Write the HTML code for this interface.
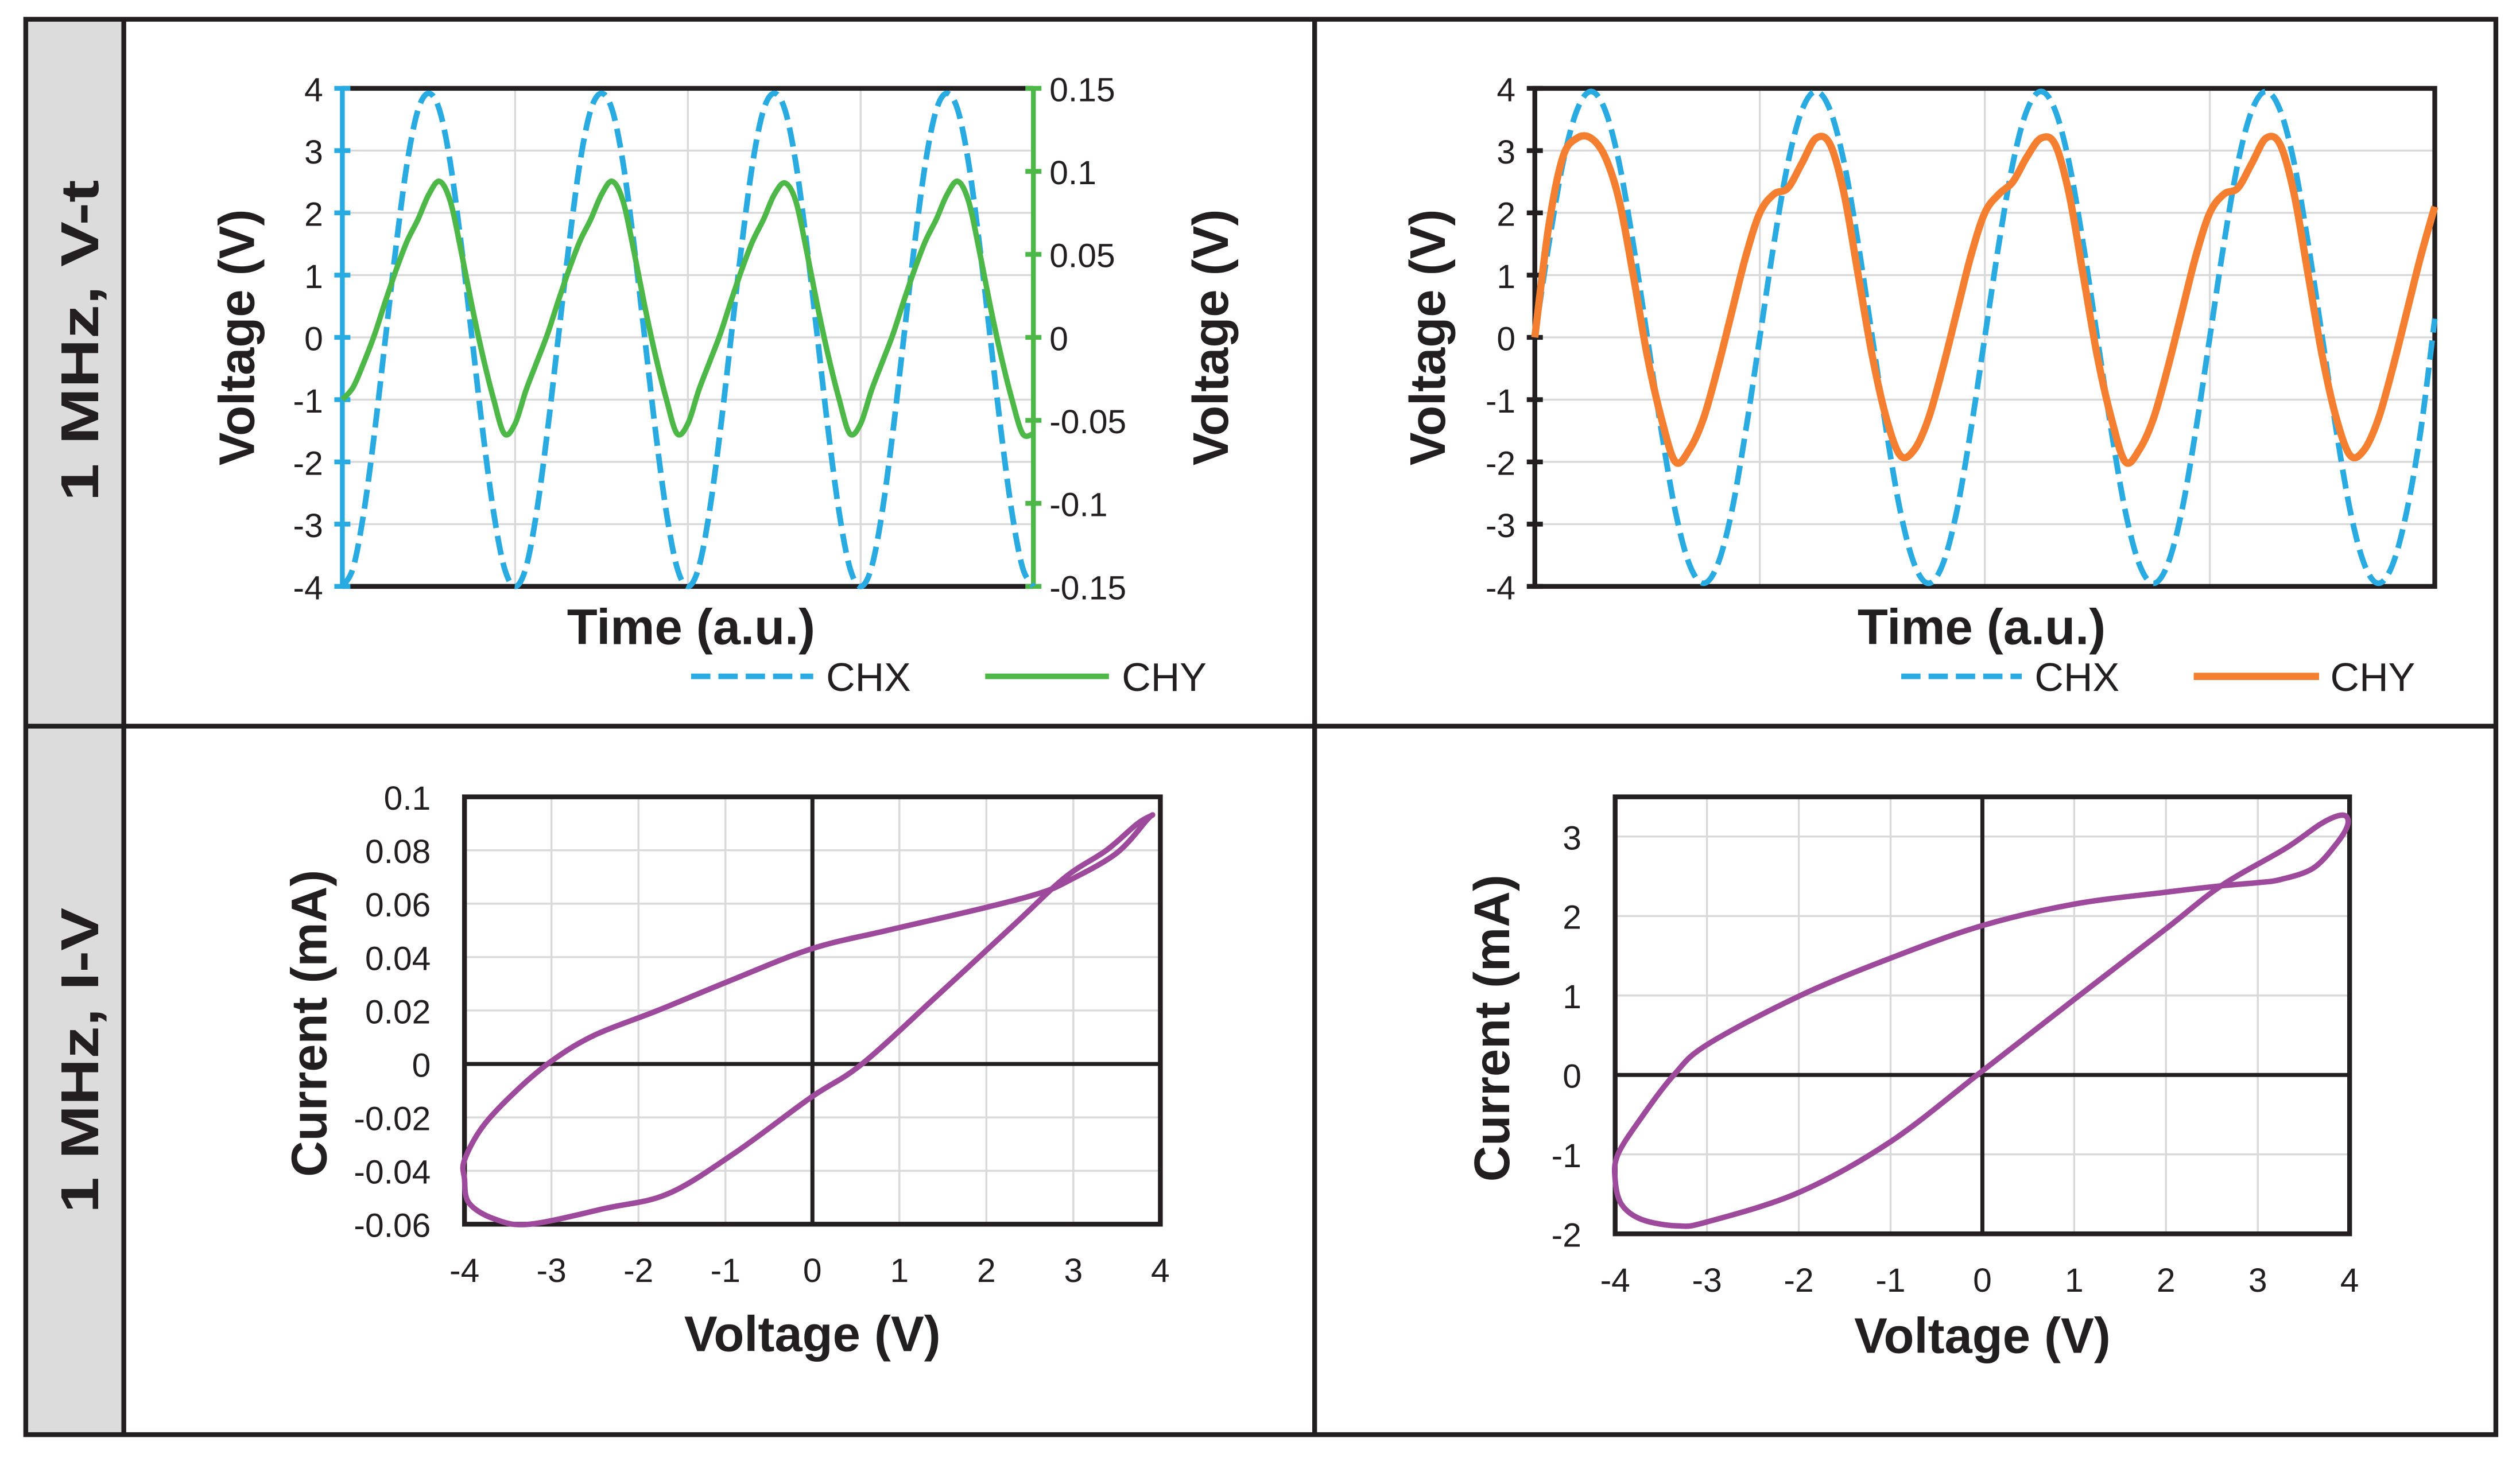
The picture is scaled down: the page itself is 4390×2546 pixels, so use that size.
<!DOCTYPE html>
<html><head><meta charset="utf-8"><style>
html,body{margin:0;padding:0;background:#fff;}
svg{display:block;}
text{font-family:"Liberation Sans",Arial,sans-serif;fill:#231f20;}
.tk{font-size:21px;}
.tt{font-size:31px;font-weight:bold;}
.rl{font-size:33px;font-weight:bold;}
.lg{font-size:25px;}
</style></head><body>
<svg id="fig" xmlns="http://www.w3.org/2000/svg" width="4390" height="2546" viewBox="0 0 1568 909.4">
<rect x="0" y="0" width="1568" height="910" fill="#fff"/>
<rect x="16" y="12" width="61" height="881" fill="#dcdcdd"/>
<rect x="16" y="12" width="1537" height="881" fill="none" stroke="#231f20" stroke-width="3"/>
<line x1="77" y1="12" x2="77" y2="893" stroke="#231f20" stroke-width="3"/>
<line x1="818" y1="12" x2="818" y2="893" stroke="#231f20" stroke-width="3"/>
<line x1="16" y1="452" x2="1553" y2="452" stroke="#231f20" stroke-width="3"/>
<text class="rl" transform="translate(61,212) rotate(-90)" text-anchor="middle" textLength="200" lengthAdjust="spacingAndGlyphs">1 MHz,  V-t</text>
<text class="rl" transform="translate(61,660) rotate(-90)" text-anchor="middle" textLength="190" lengthAdjust="spacingAndGlyphs">1 MHz, I-V</text>
<g id="g"></g>
</svg>
<script>
// ---- data ----
const chxA = [-4,-3.7,-2.8,-1.5,0,1.5,2.8,3.65,3.92,3.65,2.8,1.5,0,-1.5,-2.8,-3.7,
 -4,-3.7,-2.8,-1.5,0,1.5,2.8,3.65,3.92,3.65,2.8,1.5,0,-1.5,-2.8,-3.7,
 -4,-3.7,-2.8,-1.5,0,1.5,2.8,3.65,3.92,3.65,2.8,1.5,0,-1.5,-2.8,-3.7,
 -4,-3.7,-2.8,-1.5,0,1.5,2.8,3.65,3.92,3.65,2.8,1.5,0,-1.5,-2.8,-3.7,-4];
const chyA = [-0.0375,-0.030,-0.015,0.002,0.022,0.041,0.058,0.071,0.086,0.094,0.082,0.052,0.019,-0.011,-0.037,-0.058,
 -0.052,-0.032,-0.015,0.002,0.022,0.041,0.058,0.071,0.086,0.094,0.082,0.052,0.019,-0.011,-0.037,-0.058,
 -0.052,-0.032,-0.015,0.002,0.022,0.041,0.058,0.071,0.086,0.093,0.082,0.052,0.019,-0.011,-0.037,-0.058,
 -0.052,-0.032,-0.015,0.002,0.022,0.041,0.058,0.071,0.086,0.094,0.082,0.052,0.019,-0.011,-0.037,-0.058,-0.058];
const chxB = [0,1.5,2.8,3.65,3.95,3.65,2.8,1.5,0,-1.5,-2.8,-3.65,-3.95,-3.65,-2.8,-1.5,
 0,1.5,2.8,3.65,3.95,3.65,2.8,1.5,0,-1.5,-2.8,-3.65,-3.95,-3.65,-2.8,-1.5,
 0,1.5,2.8,3.65,3.95,3.65,2.8,1.5,0,-1.5,-2.8,-3.65,-3.95,-3.65,-2.8,-1.5,
 0,1.5,2.8,3.65,3.95,3.65,2.8,1.5,0,-1.5,-2.8,-3.65,-3.95,-3.65,-2.8,-1.5,0.3];
const chyB = [0,1.8,2.9,3.2,3.2,2.9,2.2,1.0,-0.3,-1.3,-2.0,-1.8,-1.3,-0.5,0.4,1.3,
 2.0,2.3,2.4,2.8,3.2,3.1,2.3,1.0,-0.3,-1.3,-1.9,-1.8,-1.3,-0.5,0.4,1.3,
 2.0,2.3,2.5,2.9,3.2,3.1,2.3,1.0,-0.3,-1.3,-2.0,-1.8,-1.3,-0.5,0.4,1.3,
 2.0,2.3,2.4,2.8,3.2,3.1,2.3,1.0,-0.3,-1.3,-1.9,-1.8,-1.3,-0.5,0.4,1.3,2.1];
const ivV1 = [-4,-3.78,-3.37,-2.96,-2.49,-1.78,-0.96,-0.02,0.86,1.92,2.62,2.97,3.5,3.85,3.9,3.73,3.38,2.91,2.33,1.45,0.57,-0.02,-0.9,-1.66,-2.37,-3.25,-3.66,-3.95,-4];
const ivI1 = [-0.036,-0.023,-0.009,0.002,0.011,0.020,0.031,0.043,0.050,0.058,0.064,0.069,0.079,0.0915,0.093,0.0898,0.080,0.070,0.0525,0.026,0.0,-0.0126,-0.0335,-0.0486,-0.054,-0.060,-0.058,-0.052,-0.043];
const ivV2 = [-4,-3.97,-3.71,-3.36,-3,-2,-1,0,1,2,2.6,3,3.25,3.6,3.85,3.98,3.93,3.7,3.3,2.6,2,1,0,-1,-2,-3,-3.32,-3.71,-3.93];
const ivI2 = [-1.32,-1.0,-0.53,0,0.38,0.99,1.47,1.88,2.15,2.3,2.38,2.42,2.46,2.6,2.9,3.15,3.27,3.17,2.85,2.38,1.84,0.95,0.05,-0.84,-1.48,-1.85,-1.9,-1.82,-1.63];
const ticksL = [-4,-3,-2,-1,0,1,2,3,4];
const ticksR = ["-0.15","-0.1","-0.05","0","0.05","0.1","0.15"];
const ticksI1 = ["-0.06","-0.04","-0.02","0","0.02","0.04","0.06","0.08","0.1"];
const ticksI2 = [-2,-1,0,1,2,3];
const ticksV = [-4,-3,-2,-1,0,1,2,3,4];

const NS="http://www.w3.org/2000/svg";
const G=document.getElementById('g');
function mk(tag,attrs,parent){const e=document.createElementNS(NS,tag);for(const k in attrs)e.setAttribute(k,attrs[k]);(parent||G).appendChild(e);return e;}
function lin(d0,d1,r0,r1){return v=>r0+(v-d0)/(d1-d0)*(r1-r0);}
function smooth(pts,closed){
  const n=pts.length;let d=`M${pts[0][0]},${pts[0][1]}`;
  const P=i=>closed?pts[(i+n)%n]:pts[Math.max(0,Math.min(n-1,i))];
  const m=closed?n:n-1;
  for(let i=0;i<m;i++){const p0=P(i-1),p1=P(i),p2=P(i+1),p3=P(i+2);
    d+=` C${p1[0]+(p2[0]-p0[0])/6},${p1[1]+(p2[1]-p0[1])/6} ${p2[0]-(p3[0]-p1[0])/6},${p2[1]-(p3[1]-p1[1])/6} ${p2[0]},${p2[1]}`;}
  return closed?d+'Z':d;}
function txt(x,y,s,cls,anchor,parent){const t=mk('text',{x:x,y:y,class:cls,'text-anchor':anchor||'middle'},parent);t.textContent=s;return t;}
const GRID='#d9d9d9';

// ---------- top-left ----------
{
 const x0=213,x1=643,y0=55,y1=365;
 const X=lin(0,chxA.length-1,x0,x1), Y=lin(-4,4,y1,y0), YR=lin(-0.15,0.15,y1,y0);
 for(const f of [0.25,0.5,0.75]) mk('line',{x1:x0+(x1-x0)*f,x2:x0+(x1-x0)*f,y1:y0,y2:y1,stroke:GRID,'stroke-width':1.2});
 for(const v of ticksL) mk('line',{x1:x0,x2:x1,y1:Y(v),y2:Y(v),stroke:GRID,'stroke-width':1.2});
 mk('line',{x1:x0,x2:x1,y1:y0,y2:y0,stroke:'#231f20','stroke-width':3});
 mk('line',{x1:x0,x2:x1,y1:y1,y2:y1,stroke:'#231f20','stroke-width':3});
 const la=mk('line',{x1:x0,x2:x0,y1:y0,y2:y1,stroke:'#29abe2','stroke-width':3});
 
 
 const ra=mk('line',{x1:x1,x2:x1,y1:y0,y2:y1,stroke:'#4db848','stroke-width':3});
 
 
 for(const v of ticksL){mk('line',{x1:x0-5,x2:x0+5,y1:Y(v),y2:Y(v),stroke:'#29abe2','stroke-width':3});
  const t=txt(x0-12,Y(v)+8,String(v),'tk','end');
  
  }
 for(const s of ticksR){const v=parseFloat(s);mk('line',{x1:x1-5,x2:x1+5,y1:YR(v),y2:YR(v),stroke:'#4db848','stroke-width':3});
  const t=txt(x1+10,YR(v)+8,s,'tk','start');
  
  }
 const p1=mk('path',{d:smooth(chxA.map((v,i)=>[X(i),Y(v)])),fill:'none',stroke:'#29abe2','stroke-width':3.5,'stroke-dasharray':'12 5'});
 
 
 const p2=mk('path',{d:smooth(chyA.map((v,i)=>[X(i),YR(v)])),fill:'none',stroke:'#4db848','stroke-width':3.4});
 
 
 let t=txt(0,0,'Voltage (V)','tt');t.setAttribute('transform','translate(158,210) rotate(-90)');
 
 
 t=txt(0,0,'Voltage (V)','tt');t.setAttribute('transform','translate(764,210) rotate(-90)');
 
 
 t=txt(430,401,'Time (a.u.)','tt');
 
 
 const l1=mk('line',{x1:430,x2:506,y1:421,y2:421,stroke:'#29abe2','stroke-width':3.5,'stroke-dasharray':'12 5'});
 
 
 txt(514,430,'CHX','lg','start');
 const l2=mk('line',{x1:613,x2:690,y1:421,y2:421,stroke:'#4db848','stroke-width':3.5});
 
 
 txt(698,430,'CHY','lg','start');
}
// ---------- top-right ----------
{
 const x0=955,x1=1515,y0=55,y1=365;
 const X=lin(0,chxB.length-1,x0,x1), Y=lin(-4,4,y1,y0);
 for(const f of [0.25,0.5,0.75]) mk('line',{x1:x0+(x1-x0)*f,x2:x0+(x1-x0)*f,y1:y0,y2:y1,stroke:GRID,'stroke-width':1.2});
 for(const v of ticksL) mk('line',{x1:x0,x2:x1,y1:Y(v),y2:Y(v),stroke:GRID,'stroke-width':1.2});
 mk('rect',{x:x0,y:y0,width:x1-x0,height:y1-y0,fill:'none',stroke:'#231f20','stroke-width':3});
 for(const v of ticksL){mk('line',{x1:x0-5,x2:x0+5,y1:Y(v),y2:Y(v),stroke:'#231f20','stroke-width':3});
  const t=txt(x0-12,Y(v)+8,String(v),'tk','end');
  
  }
 const p1=mk('path',{d:smooth(chxB.map((v,i)=>[X(i),Y(v)])),fill:'none',stroke:'#29abe2','stroke-width':3.5,'stroke-dasharray':'12 5'});
 
 
 const p2=mk('path',{d:smooth(chyB.map((v,i)=>[X(i),Y(v)])),fill:'none',stroke:'#f47f30','stroke-width':4.5});
 
 
 let t=txt(0,0,'Voltage (V)','tt');t.setAttribute('transform','translate(899,210) rotate(-90)');
 
 
 t=txt(1233,401,'Time (a.u.)','tt');
 
 
 const l1=mk('line',{x1:1183,x2:1258,y1:421,y2:421,stroke:'#29abe2','stroke-width':3.5,'stroke-dasharray':'12 5'});
 
 
 txt(1266,430,'CHX','lg','start');
 const l2=mk('line',{x1:1365,x2:1443,y1:421,y2:421,stroke:'#f47f30','stroke-width':4.5});
 
 
 txt(1450,430,'CHY','lg','start');
}
// ---------- I-V plots ----------
function ivPlot(x0,x1,y0,y1,imin,imax,iticks,V,I,titleX,xtY,name){
 const X=lin(-4,4,x0,x1), Y=lin(imin,imax,y1,y0);
 for(const v of ticksV) mk('line',{x1:X(v),x2:X(v),y1:y0,y2:y1,stroke:GRID,'stroke-width':1.2});
 for(const s of iticks){const v=parseFloat(s);mk('line',{x1:x0,x2:x1,y1:Y(v),y2:Y(v),stroke:GRID,'stroke-width':1.2});
  const t=txt(x0-21,Y(v)+8,String(s),'tk','end');
  
  }
 mk('line',{x1:X(0),x2:X(0),y1:y0,y2:y1,stroke:'#231f20','stroke-width':2.5});
 mk('line',{x1:x0,x2:x1,y1:Y(0),y2:Y(0),stroke:'#231f20','stroke-width':2.5});
 mk('rect',{x:x0,y:y0,width:x1-x0,height:y1-y0,fill:'none',stroke:'#231f20','stroke-width':3});
 for(const v of ticksV){const t=txt(X(v),y1+36,String(v),'tk','middle');
  
  }
 const p=mk('path',{d:smooth(V.map((v,i)=>[X(v),Y(I[i])]),true),fill:'none',stroke:'#9e4a9c','stroke-width':3.4});
 
 
 let t=txt(0,0,'Current (mA)','tt');t.setAttribute('transform',`translate(${titleX},${(y0+y1)/2+8}) rotate(-90)`);
 
 
 t=txt((x0+x1)/2,xtY,'Voltage (V)','tt');
 
 
}
ivPlot(289,722,496,762,-0.06,0.1,ticksI1,ivV1,ivI1,203,841,'iv-loop-left');
ivPlot(1005,1462,496,768,-2,3.5,ticksI2,ivV2,ivI2,939,842,'iv-loop-right');
</script>
</body></html>
